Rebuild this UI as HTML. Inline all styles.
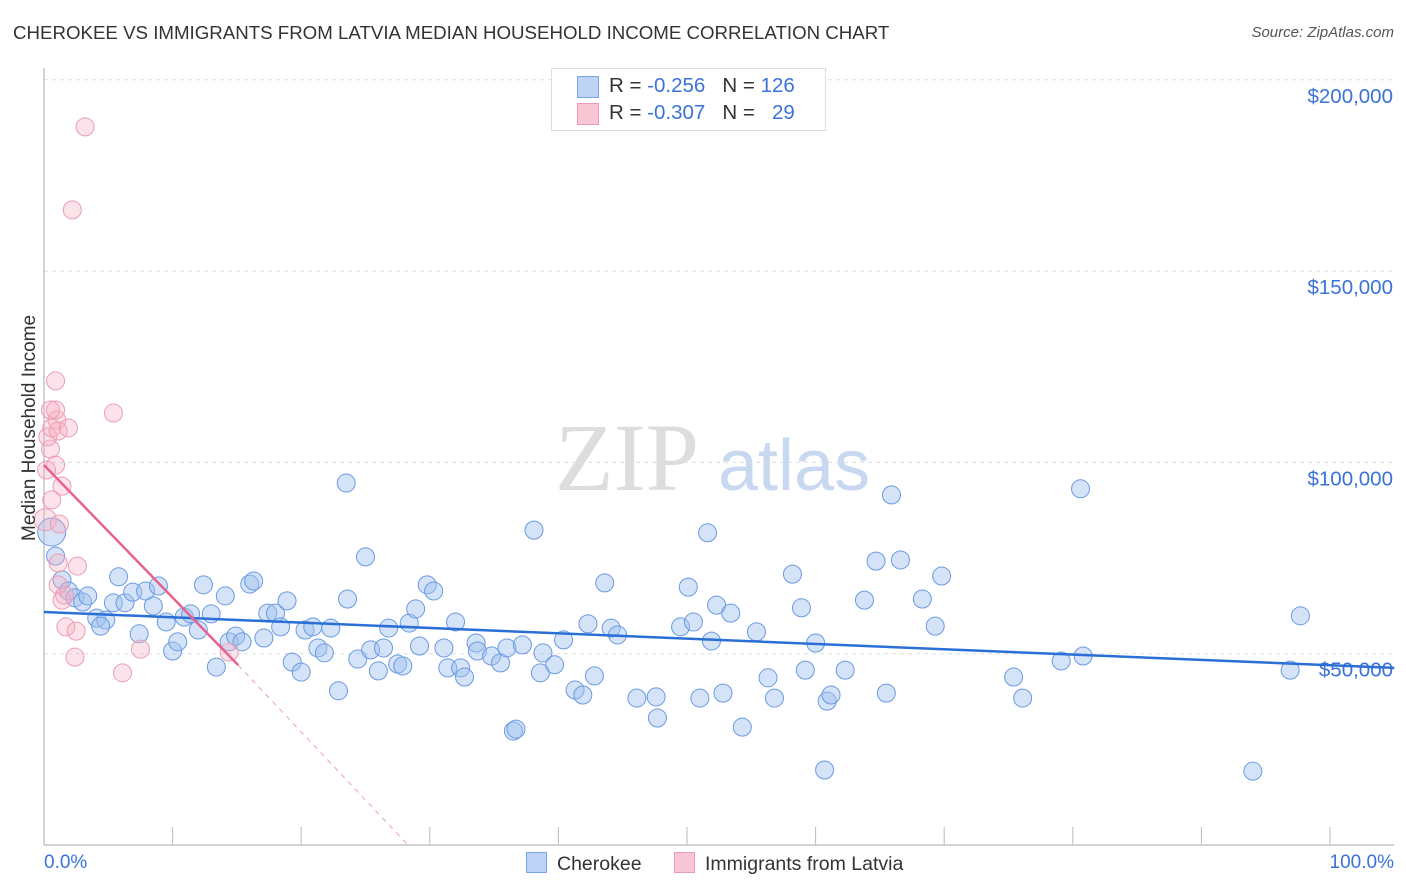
<!DOCTYPE html>
<html><head><meta charset="utf-8"><style>
body{margin:0;background:#fff;font-family:"Liberation Sans",sans-serif;}
#wrap{position:relative;width:1406px;height:892px;overflow:hidden;}
.t{position:absolute;white-space:nowrap;}
</style></head><body>
<div id="wrap">
<div class="t" style="left:13px;top:22px;font-size:18.7px;color:#333;">CHEROKEE VS IMMIGRANTS FROM LATVIA MEDIAN HOUSEHOLD INCOME CORRELATION CHART</div>
<div class="t" style="right:12px;top:24px;font-size:15px;color:#555;font-style:italic;">Source: ZipAtlas.com</div>
<svg id="svg" width="1406" height="892" style="position:absolute;left:0;top:0"></svg>
</div>
<script>
const blueX=[0.6,0.9,1.4,1.9,2.4,3.0,3.4,4.1,4.8,4.4,5.4,5.8,6.3,6.9,7.4,7.9,8.5,8.9,9.5,10.0,10.4,10.9,11.4,12.0,12.4,13.0,13.4,14.1,14.4,14.9,15.4,16.0,16.3,17.1,17.4,18.0,18.4,18.9,19.3,20.0,20.3,20.9,21.3,21.8,22.3,22.9,23.6,23.5,24.4,25.0,25.4,26.0,26.4,26.8,27.5,27.9,28.4,28.9,29.2,29.8,30.3,31.1,31.4,32.0,32.4,32.7,33.6,33.7,34.8,35.5,36.0,36.5,36.7,37.2,38.1,38.6,38.8,39.7,40.4,41.3,41.9,42.3,42.8,43.6,44.1,44.6,46.1,47.6,47.7,49.5,50.1,50.5,51.0,51.6,51.9,52.3,52.8,53.4,54.3,55.4,56.3,56.8,58.2,58.9,59.2,60.0,60.7,60.9,61.2,62.3,63.8,64.7,65.5,65.9,66.6,68.3,69.3,69.8,75.4,76.1,79.1,80.6,80.8,94.0,96.9,97.7];
const blueY=[81.8,75.5,69.3,66.4,64.6,63.5,65.1,59.3,58.8,57.2,63.3,70.1,63.3,66.1,55.2,66.4,62.5,67.7,58.3,50.7,53.1,59.6,60.4,56.2,68.0,60.4,46.5,65.1,53.1,54.6,53.1,68.2,69.0,54.1,60.6,60.6,57.0,63.8,47.8,45.2,56.2,57.0,51.5,50.2,56.7,40.3,64.3,94.6,48.6,75.3,51.0,45.5,51.5,56.7,47.3,46.8,58.0,61.7,52.0,68.0,66.4,51.5,46.3,58.3,46.3,43.9,52.8,50.7,49.4,47.6,51.5,29.8,30.3,52.3,82.3,45.0,50.2,47.1,53.6,40.5,39.2,57.8,44.2,68.5,56.7,54.9,38.4,38.7,33.2,57.0,67.4,58.3,38.4,81.6,53.3,62.7,39.7,60.6,30.8,55.7,43.7,38.4,70.8,62.0,45.7,52.8,19.6,37.6,39.2,45.7,64.0,74.2,39.7,91.5,74.5,64.3,57.2,70.3,43.9,38.4,48.1,93.1,49.4,19.3,45.7,59.9];
const pinkX=[0.1,0.5,0.3,0.6,0.9,0.9,1.0,1.1,1.2,1.4,1.1,1.4,1.7,1.9,2.2,2.4,2.5,2.6,3.2,5.4,6.1,7.5,1.1,1.6,0.6,0.9,0.5,0.2,14.4];
const pinkY=[85.0,103.5,106.7,109.0,99.3,121.3,111.1,108.2,83.9,64.0,73.7,93.8,57.0,109.0,166.0,49.1,55.9,72.9,187.7,112.9,45.0,51.2,68.0,65.3,90.2,113.7,113.7,98.0,50.4];
const blueTrend=[[0,60.9],[105,46.3]];
const pinkTrend=[[0,99.3],[15.1,47.0]];
const pinkDash=[[15.1,47.0],[28.3,0]];
const yTicks=[50,100,150,200];
const yTickLabels=["$50,000","$100,000","$150,000","$200,000"];
const sx=v=>44+v*12.86, sy=v=>845-v*3.826;
const svg=document.getElementById('svg'),NS='http://www.w3.org/2000/svg';
function mk(t,a,p){const e=document.createElementNS(NS,t);for(const k in a)e.setAttribute(k,a[k]);(p||svg).appendChild(e);return e;}
let w=mk('text',{x:555,y:490,'font-size':96,'font-family':'Liberation Serif,serif',fill:'#ddd'});w.textContent='ZIP';


let w2=mk('text',{x:718,y:490,'font-size':72,'font-family':'Liberation Sans,sans-serif',fill:'#c8d8f0'});w2.textContent='atlas';


yTicks.forEach((v,i)=>{
 const l=mk('line',{x1:44,x2:1394,y1:sy(v),y2:sy(v),stroke:'#ddd','stroke-dasharray':'4,4'});
 
 
 const t=mk('text',{x:1393,y:sy(v)+23,'text-anchor':'end','font-size':20.5,fill:'#3a73d8'});t.textContent=yTickLabels[i];
 
 
});
let ax=mk('line',{x1:44,x2:44,y1:68,y2:845,stroke:'#aaa'});


let bx=mk('line',{x1:44,x2:1394,y1:845,y2:845,stroke:'#aaa'});


for(let i=1;i<=10;i++){const tk=mk('line',{x1:sx(i*10),x2:sx(i*10),y1:827,y2:845,stroke:'#bbb'});
 
 }
blueX.forEach((x,i)=>{const c=mk('circle',{cx:sx(x),cy:sy(blueY[i]),r:i==0?14:9,fill:'rgba(160,192,240,0.45)',stroke:'#6a9ae2','stroke-width':1});
 
 });
pinkX.forEach((x,i)=>{const c=mk('circle',{cx:sx(x),cy:sy(pinkY[i]),r:i==0?11:9,fill:'rgba(245,175,195,0.35)',stroke:'#eb9db5','stroke-width':1});
 
 });
let bl=mk('line',{x1:sx(blueTrend[0][0]),y1:sy(blueTrend[0][1]),x2:sx(blueTrend[1][0]),y2:sy(blueTrend[1][1]),stroke:'#2a6fd6','stroke-width':2.5});


let pl=mk('line',{x1:sx(pinkTrend[0][0]),y1:sy(pinkTrend[0][1]),x2:sx(pinkTrend[1][0]),y2:sy(pinkTrend[1][1]),stroke:'#e5638e','stroke-width':2.5});


let pd=mk('line',{x1:sx(pinkDash[0][0]),y1:sy(pinkDash[0][1]),x2:sx(pinkDash[1][0]),y2:sy(pinkDash[1][1]),stroke:'#eaa0b8','stroke-width':1,'stroke-dasharray':'5,5'});


</script>
<div class="t" style="left:-55px;top:445px;transform:rotate(-90deg);font-size:19px;color:#333;width:170px;text-align:center;">Median Household Income</div>
<div class="t" style="left:44px;top:852px;font-size:19px;color:#3a73d8;">0.0%</div>
<div class="t" style="right:12px;top:852px;font-size:19px;color:#3a73d8;">100.0%</div>
<div style="position:absolute;left:551px;top:68px;width:273px;height:61px;border:1px solid #ddd;background:#fff;font-size:20.5px;color:#333;">
 <div class="t" style="left:25px;top:7px;width:20px;height:20px;background:#bcd3f5;border:1px solid #7aa5e6;"></div>
 <div class="t" style="left:57px;top:5px;">R = <span style="color:#3a73d8">-0.256</span>&nbsp;&nbsp;&nbsp;N = <span style="color:#3a73d8">126</span></div>
 <div class="t" style="left:25px;top:34px;width:20px;height:20px;background:#f8c6d4;border:1px solid #ec9bb4;"></div>
 <div class="t" style="left:57px;top:32px;">R = <span style="color:#3a73d8">-0.307</span>&nbsp;&nbsp;&nbsp;N = &nbsp;&nbsp;<span style="color:#3a73d8">29</span></div>
</div>
<div class="t" style="left:526px;top:852px;font-size:19.5px;color:#333;"><span style="display:inline-block;width:19px;height:19px;background:#bcd3f5;border:1px solid #7aa5e6;vertical-align:-3px;margin-right:10px;"></span>Cherokee</div>
<div class="t" style="left:674px;top:852px;font-size:19.5px;color:#333;"><span style="display:inline-block;width:19px;height:19px;background:#f8c6d4;border:1px solid #ec9bb4;vertical-align:-3px;margin-right:10px;"></span>Immigrants from Latvia</div>
</body></html>
